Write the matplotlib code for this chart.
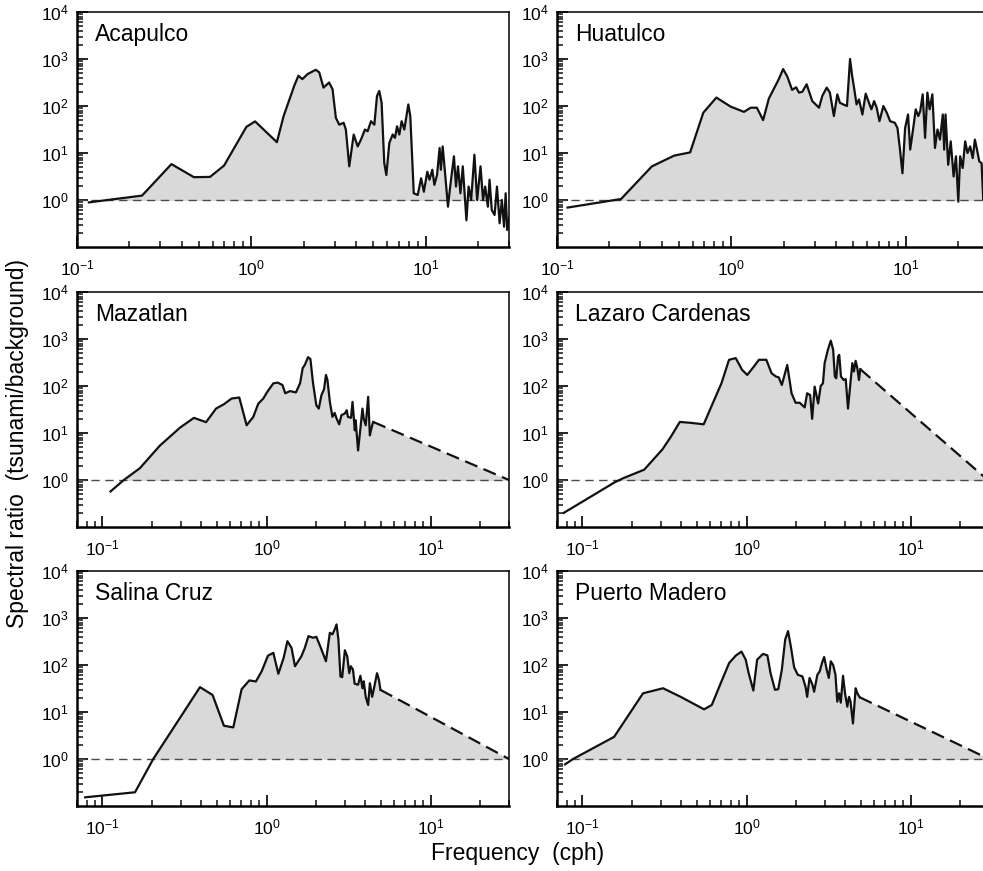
"""
Spectral ratio (tsunami / background) for six tide gauges on the Pacific coast of Mexico.
Log-log panels, shaded where the ratio is above 1, dashed tail = extrapolated part.
"""

import numpy as np
import matplotlib
matplotlib.use("Agg")
import matplotlib.pyplot as plt
from matplotlib.patches import Rectangle
from matplotlib.ticker import FixedLocator, NullFormatter

plt.rcParams['font.family'] = ['Liberation Sans', 'DejaVu Sans']
plt.rcParams['mathtext.fontset'] = 'custom'
plt.rcParams['mathtext.rm'] = 'Liberation Sans'
plt.rcParams['axes.unicode_minus'] = False

# ---- data (frequency in cph, spectral ratio) ----
aca_f = [0.117, 0.236, 0.348, 0.468, 0.579, 0.697, 0.936, 1.05, 1.40, 1.53,
         1.76, 1.86, 1.96, 2.10, 2.34, 2.45, 2.59, 2.79, 2.92, 3.05,
         3.19, 3.38, 3.48, 3.64, 3.86, 4.07, 4.25, 4.48, 4.64, 4.85,
         5.07, 5.25, 5.41, 5.58, 5.78, 5.94, 6.18, 6.46, 6.66, 6.84,
         7.05, 7.27, 7.53, 7.94, 8.15, 8.53, 8.99, 9.4, 9.75, 10.2,
         10.5, 10.9, 11.2, 11.6, 12.0, 12.2, 12.5, 12.9, 13.4, 13.8,
         14.5, 14.9, 15.3, 15.8, 16.3, 17.1, 17.6, 18.2, 19.0, 19.7,
         20.6, 21.3, 21.9, 22.7, 23.2, 23.9, 24.8, 25.6, 26.5, 27.3,
         28.1, 28.7, 29.3, 30.2]
aca_r = [0.89, 1.24, 5.8, 3.06, 3.1, 5.4, 36, 47, 17, 61,
         268, 440, 373, 478, 590, 520, 246, 316, 227, 56,
         40, 44, 31.6, 5.2, 24.7, 13.8, 19.3, 31.6, 29, 47.5,
         40, 163, 209, 117, 6.1, 3.4, 16.4, 24.7, 21, 37,
         24.7, 47.5, 31.6, 108, 61, 1.39, 1.28, 2.9, 1.5, 4.0,
         2.7, 4.4, 2.1, 3.4, 12.8, 4.4, 13.8, 3.7, 0.72, 1.93,
         8.5, 1.93, 5.2, 1.39, 5.2, 0.37, 1.93, 1.0, 9.2, 1.0,
         5.2, 1.0, 1.93, 0.72, 2.7, 0.61, 0.48, 1.93, 0.32, 1.0,
         0.27, 1.39, 0.23, 0.44]

hua_f = [0.115, 0.233, 0.35, 0.47, 0.58, 0.69, 0.82, 0.99, 1.18, 1.29,
         1.40, 1.52, 1.64, 1.87, 1.98, 2.09, 2.23, 2.35, 2.44, 2.55,
         2.70, 2.91, 3.18, 3.32, 3.52, 3.67, 3.87, 4.05, 4.19, 4.38,
         4.60, 4.79, 4.92, 5.05, 5.22, 5.39, 5.64, 5.89, 6.15, 6.35,
         6.58, 6.81, 7.06, 7.44, 7.78, 8.13, 8.65, 8.96, 9.24, 9.57,
         9.91, 10.3, 10.6, 11.1, 11.4, 11.8, 12.1, 12.5, 12.9, 13.3,
         13.7, 14.2, 14.7, 15.2, 15.7, 16.3, 16.6, 16.9, 17.5, 18.1,
         18.8, 19.4, 20.0, 20.5, 21.2, 21.9, 22.6, 23.4, 24.2, 24.9,
         25.6, 26.4, 27.2, 27.8, 28.6, 29.5]
hua_r = [0.69, 1.05, 5.2, 8.8, 10.3, 72, 151, 97, 75, 92,
         92, 50, 144, 373, 611, 426, 220, 250, 193, 200,
         290, 127, 92, 163, 246, 193, 61, 177, 117, 108,
         100, 1000, 450, 246, 108, 138, 66, 183, 117, 85,
         127, 92, 47.5, 100, 72, 47.5, 44, 34, 12.8, 3.7,
         34, 66, 11.8, 40, 85, 61, 78, 177, 21, 193,
         85, 177, 12.8, 31.6, 19.3, 66, 11.8, 66, 5.6, 17.7,
         3.16, 8.5, 0.92, 8.5, 4.8, 17.7, 10, 13.8, 7.8, 19.3,
         11.8, 6.6, 6.1, 1.0, 3.0, 1.5]

maz_f = [0.112, 0.135, 0.169, 0.224, 0.297, 0.361, 0.428, 0.492, 0.55, 0.612,
         0.682, 0.756, 0.83, 0.89, 0.955, 1.01, 1.10, 1.17, 1.25, 1.30,
         1.39, 1.51, 1.60, 1.66, 1.71, 1.79, 1.85, 1.92, 2.01, 2.08,
         2.16, 2.24, 2.30, 2.35, 2.43, 2.52, 2.60, 2.67, 2.77, 2.86,
         3.0, 3.08, 3.13, 3.27, 3.34, 3.45, 3.49, 3.61, 3.73, 3.84,
         3.91, 4.02, 4.16, 4.26, 4.35, 4.46]
maz_r = [0.57, 1.0, 1.78, 5.4, 13, 21, 17, 33, 41, 54,
         57, 14.6, 22, 42, 54, 75, 114, 118, 105, 70,
         78, 73, 114, 240, 280, 411, 375, 114, 39, 33,
         64, 85, 172, 134, 46, 22, 26.8, 20.4, 15.3, 24,
         26, 30.5, 22, 21, 46, 11.4, 18.7, 4.25, 12.4, 33,
         20, 14.6, 59, 8.9, 12.4, 17.2]

laz_f = [0.077, 0.111, 0.157, 0.177, 0.238, 0.307, 0.345, 0.392, 0.461, 0.548,
         0.619, 0.703, 0.782, 0.859, 0.94, 1.01, 1.10, 1.19, 1.32, 1.42,
         1.51, 1.57, 1.64, 1.77, 1.88, 1.99, 2.11, 2.26, 2.34, 2.44,
         2.51, 2.60, 2.73, 2.83, 2.92, 2.99, 3.13, 3.26, 3.37, 3.45,
         3.52, 3.61, 3.67, 3.76, 3.91, 4.02, 4.15, 4.41, 4.51, 4.62,
         4.73, 4.84, 4.93]
laz_r = [0.20, 0.43, 0.89, 1.09, 1.66, 4.47, 8.2, 17.2, 16.4, 15.3,
         41, 114, 361, 392, 220, 172, 251, 361, 361, 187,
         159, 153, 105, 280, 70, 44, 44, 35, 70, 64,
         20, 97, 42.5, 100, 114, 306, 590, 921, 590, 159,
         146, 425, 460, 159, 134, 140, 33, 306, 203, 343,
         240, 134, 228]

sal_f = [0.0785, 0.158, 0.204, 0.393, 0.469, 0.55, 0.627, 0.705, 0.785, 0.861,
         0.933, 1.02, 1.10, 1.18, 1.27, 1.34, 1.42, 1.49, 1.63, 1.71,
         1.80, 1.92, 2.01, 2.13, 2.30, 2.43, 2.52, 2.60, 2.67, 2.74,
         2.82, 2.89, 3.0, 3.10, 3.19, 3.26, 3.36, 3.44, 3.61, 3.73,
         3.84, 3.91, 4.02, 4.16, 4.26, 4.40, 4.56, 4.71, 4.84, 4.94]
sal_r = [0.153, 0.196, 1.0, 33.8, 23, 5.1, 4.7, 30.6, 47, 44.6,
         73, 158, 181, 65, 141, 321, 231, 94, 153, 231,
         411, 380, 398, 243, 120, 485, 449, 571, 731, 349,
         57, 55, 206, 153, 67, 94, 80, 40, 38, 59,
         32, 45, 21, 14.1, 41, 21, 38, 67, 48, 29.6]

pue_f = [0.0784, 0.0877, 0.156, 0.234, 0.31, 0.397, 0.551, 0.614, 0.696, 0.783,
         0.859, 0.931, 0.988, 1.03, 1.10, 1.16, 1.26, 1.34, 1.40, 1.49,
         1.56, 1.64, 1.72, 1.79, 1.86, 1.95, 2.05, 2.19, 2.29, 2.34,
         2.42, 2.52, 2.58, 2.70, 2.79, 2.89, 2.97, 3.08, 3.17, 3.26,
         3.37, 3.48, 3.57, 3.66, 3.75, 3.87, 3.98, 4.11, 4.21, 4.30,
         4.45, 4.62, 4.73, 4.89]
pue_r = [0.77, 1.0, 2.96, 25, 32, 21, 11.4, 14.1, 41, 110,
         158, 193, 130, 67, 28.6, 130, 172, 160, 67, 29.6,
         30.6, 79, 349, 527, 251, 89, 62, 57, 33.8, 21,
         53, 38, 27, 62, 73, 114, 148, 79, 53, 120,
         100, 62, 16.6, 25, 15.8, 59, 25, 13, 21, 16.6,
         5.7, 32, 25, 20.6]

# end point of the extrapolated (dashed) tail, None = no tail
maz_tail = [30.0, 1.0]
laz_tail = [30.0, 0.95]
sal_tail = [30.0, 1.0]
pue_tail = [30.0, 1.0]

stations = ["Acapulco", "Huatulco", "Mazatlan", "Lazaro Cardenas", "Salina Cruz", "Puerto Madero"]
freqs = [aca_f, hua_f, maz_f, laz_f, sal_f, pue_f]
ratios = [aca_r, hua_r, maz_r, laz_r, sal_r, pue_r]
tails = [None, None, maz_tail, laz_tail, sal_tail, pue_tail]

FILL = '#d9d9d9'

# minor ticks 2..9 in every decade
MINOR = [m * 10.0 ** e for e in range(-2, 5) for m in range(2, 10)]


def draw_panel(ax, name, f, r, tail, xlim):
    f = np.asarray(f, dtype=float)
    r = np.asarray(r, dtype=float)
    assert len(f) == len(r), name

    # full outline used for the shading (curve + extrapolated tail)
    if tail is not None:
        f_all = np.append(f, tail[0])
        r_all = np.append(r, tail[1])
    else:
        f_all, r_all = f, r

    ax.set_xscale('log')
    ax.set_yscale('log')

    # shade only the part above ratio = 1
    poly = ax.fill_between(f_all, r_all, 1e-3, color=FILL, lw=0, zorder=1)
    clip = Rectangle((1e-3, 1.0), 1e3, 1e6, transform=ax.transData)
    poly.set_clip_path(clip)

    ax.axhline(1.0, color='#4a4a4a', lw=1.0, dashes=(6, 4), zorder=2)
    ax.plot(f, r, color='#111111', lw=1.6, zorder=3)
    if tail is not None:
        ax.plot([f[-1], tail[0]], [r[-1], tail[1]], color='#111111', lw=1.6,
                dashes=(6, 3), zorder=3)

    ax.set_xlim(xlim)
    ax.set_ylim(0.1, 1e4)
    ax.set_xticks([0.1, 1, 10])
    ax.set_yticks([1, 10, 100, 1000, 10000])
    ax.xaxis.set_minor_locator(FixedLocator(MINOR))
    ax.yaxis.set_minor_locator(FixedLocator(MINOR))
    ax.xaxis.set_minor_formatter(NullFormatter())
    ax.yaxis.set_minor_formatter(NullFormatter())
    ax.tick_params(which='major', direction='in', length=8, width=1.3, labelsize=12.5,
                   pad=6, color='#111111')
    ax.tick_params(which='minor', direction='in', length=4.5, width=1.1, color='#111111')
    ax.tick_params(axis='x', which='major', pad=8)

    for side in ['left', 'bottom']:
        ax.spines[side].set_linewidth(1.8)
    for side in ['top', 'right']:
        ax.spines[side].set_linewidth(1.1)

    ax.text(0.042, 0.955, name, transform=ax.transAxes, fontsize=16.5, va='top', ha='left')


fig = plt.figure(figsize=(9.83, 8.71), dpi=100)

W, H = 983.0, 871.0
col_left = [77, 557]
row_top = [12, 292, 571]
ax_w, ax_h = 432, 235

for i, name in enumerate(stations):
    row, col = i // 2, i % 2
    left = col_left[col] / W
    bottom = 1 - (row_top[row] + ax_h) / H
    ax = fig.add_axes([left, bottom, ax_w / W, ax_h / H])
    xlim = (0.1, 30) if row == 0 else (0.07, 30)
    draw_panel(ax, name, freqs[i], ratios[i], tails[i], xlim)

fig.text(18 / W, 1 - 443 / H, "Spectral ratio  (tsunami/background)", rotation=90,
         ha='center', va='center', fontsize=16.5)
fig.text(518 / W, 1 - 853 / H, "Frequency  (cph)", ha='center', va='center', fontsize=16.5)

plt.savefig("out.png", dpi=100)
